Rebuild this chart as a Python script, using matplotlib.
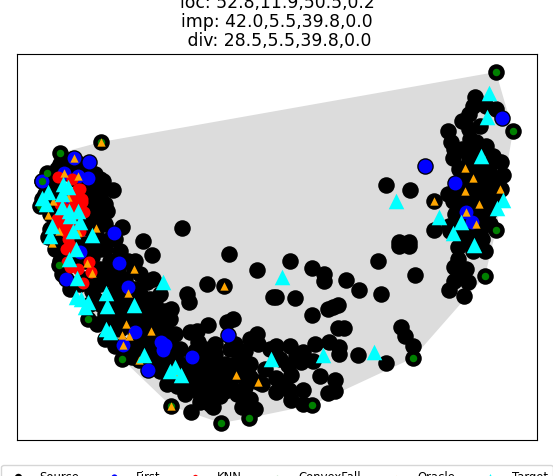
import numpy as np
import matplotlib
matplotlib.use("Agg")
import matplotlib.pyplot as plt
from matplotlib.patches import Polygon

title_lines = ["loc: 52.8,11.9,50.5,0.2", "imp: 42.0,5.5,39.8,0.0", " div: 28.5,5.5,39.8,0.0"]

source_only = [
 (152,256),(229,255),(257,271),(207,285),(187,295),(189,303),(273,298),(171,310),(208,326),(233,320),(227,323),
 (197,332),(190,333),(198,343),(290,262),(312,269),(324,275),(324,282),(346,281),(359,291),(378,262),(415,276),
 (381,295),(295,299),(276,298),(312,316),(328,310),(333,308),(338,306),(338,329),(344,329),(401,328),(405,337),
 (413,347),(386,364),(358,356),(339,355),(339,348),(329,343),(315,345),(290,347),(276,347),(303,353),(296,357),
 (313,362),(301,363),(288,366),(291,376),(320,377),(335,381),(335,392),(328,394),(303,391),(289,391),(291,401),
 (303,405),(276,379),(276,393),
 (399,247),(409,247),(458,248),(485,252),(473,252),(458,260),(454,268),(466,270),(458,277),(454,282),(468,283),
 (449,291),(464,297),(475,98),(473,107),(486,107),(496,110),(480,127),(469,115),(462,122),(469,130),(448,132),
 (451,143),(454,150),(453,159),(476,143),(486,147),(468,155),(493,157),(501,163),(503,176),(459,170),(476,160),
 (483,170),(489,167),(466,173),(476,187),(493,183),(501,190),(386,186),(410,191),(448,195),(453,202),(469,197),
 (483,197),(496,200),(489,213),(434,231),(449,227),(466,220),(476,227),(466,233),(480,233),(399,243),(409,243),
 (475,180),(462,182),(485,180),(460,195),(476,207),(470,210),(485,225),(462,240),(458,232),(490,190),(480,150),
 (468,165),(478,170),(465,185),(458,205),(465,205),(485,210),(490,225),(475,240),(470,245),(490,175),(450,232),
 (470,140),(462,150),(490,205),(488,195),(470,190),(455,215),(462,212),(458,225),(478,218),(482,240),
 (72,160),(57,170),(70,170),(85,172),(100,180),(103,182),(113,191),(95,190),(105,205),(90,200),(50,190),(45,195),
 (50,215),(100,215),(107,212),(122,228),(105,225),(110,240),(100,250),(115,240),(143,242),(182,229),(55,222),
 (85,185),(95,175),(90,215),(90,230),(97,238),(55,205),(42,200),(52,180),(60,165),(80,165),(92,195),(100,195),
 (55,190),(60,175),(75,180),(85,195),(85,210),(98,205),(95,222),(80,225),(65,222),(50,230),(48,238),(60,240),
 (75,240),(85,245),(55,250),(60,262),(70,255),(95,245),(105,250),(110,262),(100,270),(110,280),(120,285),(100,285),
 (112,295),(125,302),(140,295),(147,283),(153,280),(160,295),(148,310),(155,318),(165,312),(170,320),(165,330),
 (150,320),(135,318),(120,315),(110,320),(97,325),(120,330),(140,330),(150,340),(115,347),(130,350),(145,350),
 (160,360),(170,355),(180,350),(195,352),(215,355),(200,375),(180,385),(190,385),(210,370),(225,365),(215,385),
 (200,395),(210,405),(237,395),(250,400),(262,385),(240,370),(258,345),(270,350),(240,355),(250,340),(245,352),
 (257,335),(275,350),(250,365),(265,370),(280,360),(191,413),(213,408),(242,408),(255,410),(237,394),(200,403),
 (220,397),(167,385),(177,387),(205,350),(215,345),(220,375),(230,385),(205,385),(190,370),(280,385),(96,229),
 (434,202),(224,287),(465,169),(473,179),(465,192),(479,205),(500,190),(236,376),(258,383),(134,270),(151,332),
 (126,325),(139,361),(85,262),(92,258),(85,280),(92,292),(100,305),(118,270),(125,280),(135,290),(125,312),
 (137,305),(150,300),(112,305),(105,315),(135,340),(150,360),(160,372),(170,365),(180,365),(195,365),(205,360),
 (215,365),(195,385),(205,395),(185,395),(225,378),(225,392),(170,340),(175,335),(160,325),(145,325),(125,322),
 (75,262),(72,285),(120,252),(128,262),(140,275),(135,262),(105,270),(95,278),(70,290),(62,275),(65,248),(95,300),
 (115,330),(80,285),(90,305),(125,292),(145,300),(155,305),(160,340),(150,335),(175,350),(185,375),(215,375),
 (210,395),(230,350),(235,345),(235,365),(250,378),(175,375),(215,398),(245,388),(150,352),(132,358),(105,340),
]
first_x = [114,80,119,66,128,135,123,161,165,163,148,192,228,502,425,455,466,472,89,88,74,42,78,64,66,163]
first_y = [234,253,264,280,288,333,346,343,346,351,371,358,336,119,167,184,213,223,163,179,159,182,177,174,200,345]
knn_x = [68,67,78,70,89,91,83,58,80,82,73,57,63,75,60,80,70,72,66,78,82,84,60,58,70,65,74,68,76]
knn_y = [240,263,270,268,263,273,284,178,190,203,200,220,225,215,205,232,246,180,250,190,200,213,220,225,225,232,195,210,205]
hull_x = [496,513,496,485,413,312,249,221,171,122,88,59,40,42,47,60,101]
hull_y = [73,132,231,277,359,406,419,424,407,360,320,266,207,182,174,154,143]
oracle_x = [134,224,87,92,128,126,151,122,129,123,139,177,171,236,258,52,101,74,64,78,53,68,48,96,59,78,465,473,465,434,479,500,466,476]
oracle_y = [270,287,264,274,294,325,332,336,337,346,361,374,407,376,383,244,143,159,174,177,202,198,216,229,232,233,169,179,192,202,205,190,213,225]
target_x = [48,42,46,63,68,62,62,69,78,70,80,52,50,73,92,76,69,77,76,81,88,85,106,107,134,163,106,110,144,175,170,181,271,282,323,374,474,489,487,481,396,439,461,453,503,497]
target_y = [193,199,205,185,188,195,208,212,212,217,223,227,237,232,236,250,260,279,298,300,303,308,294,307,306,283,330,333,356,368,372,376,360,278,356,353,246,94,118,157,202,218,223,234,201,209]
legend_labels = ["Source","First","KNN","ConvexFall","Oracle","Target"]

fig = plt.figure(figsize=(5.53,4.77), dpi=100)
ax = fig.add_axes([17/553, 1-441/477, 520/553, 386/477])
ax.set_xlim(17,537); ax.set_ylim(441,55)
ax.set_xticks([]); ax.set_yticks([])
ax.add_patch(Polygon(np.column_stack([hull_x,hull_y]), closed=True, fc="#dcdcdc", ec="none", zorder=1))
sx,sy = zip(*source_only)
src_x = list(sx)+first_x+hull_x
src_y = list(sy)+first_y+hull_y
ax.scatter(src_x, src_y, s=142, c="black", zorder=2, label=legend_labels[0], linewidths=0)
ax.scatter(first_x, first_y, s=100, c="blue", zorder=3, label=legend_labels[1], linewidths=0)
ax.scatter(knn_x, knn_y, s=75, c="red", zorder=4, label=legend_labels[2], linewidths=0)
ax.scatter(hull_x, hull_y, s=29, c="green", zorder=5, label=legend_labels[3], linewidths=0)
ax.scatter(oracle_x, oracle_y, s=36, c="orange", marker="^", zorder=6, label=legend_labels[4], linewidths=0)
ax.scatter(target_x, target_y, s=125, c="cyan", marker="^", zorder=7, label=legend_labels[5], linewidths=0)
for line, y in zip(title_lines, (3, 22, 41)):
    fig.text(277/553, 1-y/477, line, ha="center", va="center", fontsize=12.45)
leg = ax.legend(ncol=6, loc="upper center", bbox_to_anchor=(0.5, -25/386), borderaxespad=0, fontsize=8.4,
                markerscale=0.45, columnspacing=2.0, handletextpad=0.85, borderpad=0.4)
fig.savefig("out.png", dpi=100)
